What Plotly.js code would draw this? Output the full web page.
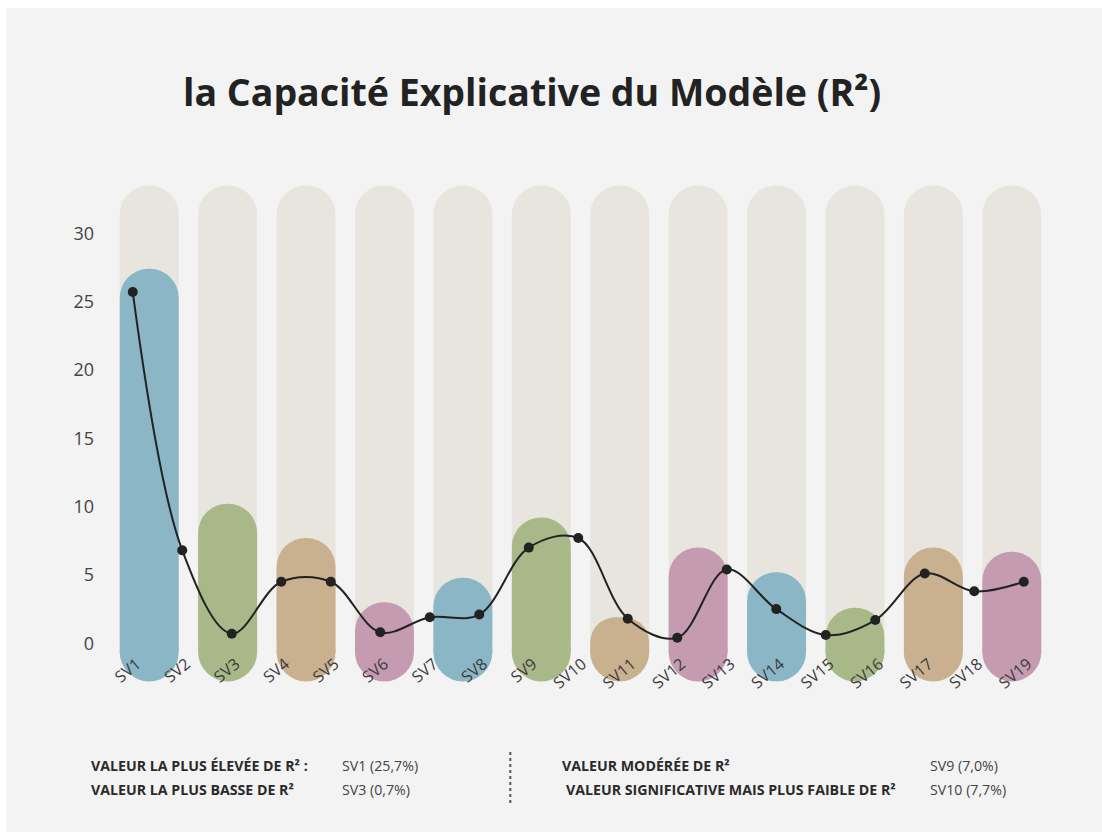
<!DOCTYPE html>
<html>
<head>
<meta charset="utf-8">
<script src="https://cdn.plot.ly/plotly-3.0.1.min.js"></script>
<style>
html,body{margin:0;padding:0;background:#ffffff;}
#chart{position:absolute;left:6px;top:8px;width:1096px;height:824px;}
</style>
</head>
<body>
<div id="chart"></div>
<script>
// ---- data ----
const svLabels = ["SV1","SV2","SV3","SV4","SV5","SV6","SV7","SV8","SV9","SV10",
                  "SV11","SV12","SV13","SV14","SV15","SV16","SV17","SV18","SV19"];
const r2Values = [25.7, 6.8, 0.7, 4.5, 4.5, 0.8, 1.9, 2.1, 7.0, 7.7,
                  1.8, 0.4, 5.4, 2.5, 0.6, 1.7, 5.1, 3.8, 4.5];
const pillIndex = [0,1,2,3,4,5,6,7,8,9,10,11];
const pillTop   = [27.4, 10.2, 7.7, 3.0, 4.8, 9.2, 1.9, 7.0, 5.2, 2.6, 7.0, 6.7];
const pillTrackTop = 33.5;
const pillBottomCenter = -0.64;   // centre of the rounded bottom end
const pillColors = ["#8ab6c6","#a9b888","#c9b08e","#c49bb0",
                    "#8ab6c6","#a9b888","#c9b08e","#c49bb0",
                    "#8ab6c6","#a9b888","#c9b08e","#c49bb0"];
const yTicks = [0,5,10,15,20,25,30];
const titleText = "la Capacité Explicative du Modèle (R²)";
const notesLeft = [["VALEUR LA PLUS ÉLEVÉE DE R² :","SV1 (25,7%)"],
                   ["VALEUR LA PLUS BASSE DE R²","SV3 (0,7%)"]];
const notesRight = [["VALEUR MODÉRÉE DE R²","SV9 (7,0%)"],
                    ["VALEUR SIGNIFICATIVE MAIS PLUS FAIBLE DE R²","SV10 (7,7%)"]];

// ---- pills: rounded-top bar + square filler + circle for the rounded bottom ----
const grey = "#e8e5df";
const pillW = 0.752;
const pillPx = 59;
function barTrace(vals, colors, radius, xa){
  return {
    type:"bar", x:pillIndex, y:vals, width:pillW,
    marker:{color:colors, cornerradius:radius, line:{width:0}},
    hoverinfo:"skip", showlegend:false, xaxis:xa, yaxis:"y"
  };
}
const traces = [
  barTrace(pillIndex.map(()=>pillTrackTop), grey, "50%", "x"),
  barTrace(pillTop, pillColors, "50%", "x2"),
  barTrace(pillIndex.map(()=>pillBottomCenter), pillColors, 0, "x3"),
  {
    type:"scatter", mode:"markers", x:pillIndex, y:pillIndex.map(()=>pillBottomCenter),
    xaxis:"x3", yaxis:"y",
    marker:{color:pillColors, size:pillPx, line:{width:0}},
    hoverinfo:"skip", showlegend:false, cliponaxis:false
  },
  {
    type:"scatter", mode:"lines+markers", x:svLabels, y:r2Values,
    xaxis:"x4", yaxis:"y",
    line:{color:"#222222", width:2, shape:"spline", smoothing:1},
    marker:{color:"#222222", size:10},
    hoverinfo:"x+y", showlegend:false, cliponaxis:false
  }
];

const annotations = [];
const lx = -0.0219, lvx = 0.2448, rx = [0.4786, 0.4829], rvx = 0.8696;
const rowY = [-0.149, -0.195];
const bold = {family:"Open Sans", size:14.2, color:"#2a2a2a"};
const reg  = {family:"Open Sans", size:14.2, color:"#444"};
notesLeft.forEach((n,i)=>{
  annotations.push({xref:"paper",yref:"paper",x:lx,y:rowY[i],xanchor:"left",yanchor:"middle",
    text:"<b>"+n[0]+"</b>",showarrow:false,font:bold});
  annotations.push({xref:"paper",yref:"paper",x:lvx,y:rowY[i],xanchor:"left",yanchor:"middle",
    text:n[1],showarrow:false,font:reg});
});
notesRight.forEach((n,i)=>{
  annotations.push({xref:"paper",yref:"paper",x:rx[i],y:rowY[i],xanchor:"left",yanchor:"middle",
    text:"<b>"+n[0]+"</b>",showarrow:false,font:bold});
  annotations.push({xref:"paper",yref:"paper",x:rvx,y:rowY[i],xanchor:"left",yanchor:"middle",
    text:n[1],showarrow:false,font:reg});
});

const hiddenX = {range:[-0.5,11.5], visible:false, fixedrange:true};
const layout = {
  width:1096, height:824,
  paper_bgcolor:"#f3f3f3", plot_bgcolor:"rgba(0,0,0,0)",
  margin:{l:103.6, r:51.3, t:172, b:142},
  barmode:"overlay",
  title:{text:"<b>"+titleText+"</b>", x:0.480, xanchor:"center", y:0.897, yanchor:"middle",
         font:{family:"Open Sans", size:37.5, color:"#222"}},
  xaxis: Object.assign({}, hiddenX),
  xaxis2: Object.assign({overlaying:"x"}, hiddenX),
  xaxis3: Object.assign({overlaying:"x"}, hiddenX),
  xaxis4:{overlaying:"x", anchor:"free", position:0.077, side:"bottom",
          type:"category", range:[-0.46,18.55],
          showgrid:false, zeroline:false, showline:false, ticks:"",
          ticklabelshift:4,
          tickangle:-40, tickfont:{family:"Open Sans", size:16, color:"#3a3a3a"}},
  yaxis:{range:[-3.42,33.9], tickvals:yTicks, showgrid:false, zeroline:false, showline:false,
         ticks:"", ticklabelstandoff:15, tickfont:{family:"Open Sans", size:18, color:"#444"},
         fixedrange:true},
  shapes:[{type:"line", xref:"paper", yref:"paper", x0:0.4254, x1:0.4254, y0:-0.1216, y1:-0.2216,
           line:{color:"#555", width:2, dash:"dot"}}],
  annotations:annotations,
  showlegend:false
};
Plotly.newPlot("chart", traces, layout, {displayModeBar:false, staticPlot:true});
</script>
</body>
</html>
